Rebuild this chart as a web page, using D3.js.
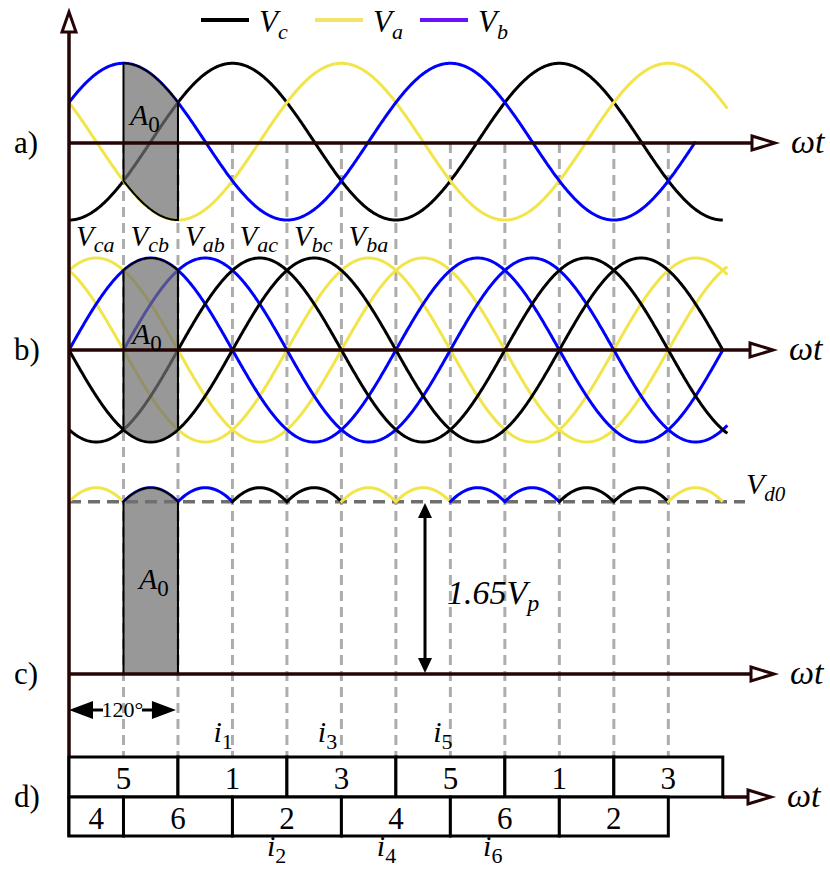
<!DOCTYPE html>
<meta charset="utf-8" />
<script src="https://d3js.org/d3.v7.min.js"></script>
<style>
  body { margin: 0; background: #fff; }
</style>
<div id="chart"></div>
<script>
  // panel a: phase voltages (angle of the peak, where the trace starts / stops), degrees
  const phaseKeys = ["c", "a", "b"];
  const phasePeaks = [180, 300, 60];
  const phaseStart = [0, 0, 0];
  const phaseEnd = [720, 725, 690];

  // panel b: line-to-line voltages
  const lineKeys = ["a", "a", "b", "b", "c", "c"];
  const linePeaks = [30, 330, 90, 150, 210, 270];
  const lineStart = [0, 0, 0, 60, 0, 0];
  const lineEnd = [725, 725, 720, 725, 725, 720];

  const sectorStarts = [0, 60, 120, 180, 240, 300];
  const sectorLabels = ["ca", "cb", "ab", "ac", "bc", "ba"];

  // panel c: rectified output, one arc per 60 deg sector
  const rectCenters = [30, 90, 150, 210, 270, 330, 390, 450, 510, 570, 630, 690];
  const rectKeys = ["a", "b", "b", "c", "c", "a", "a", "b", "b", "c", "c", "a"];
  const rectHalf = 31;

  const shadeFrom = 60, shadeTo = 120;
  const gridDegrees = [60, 120, 180, 240, 300, 360, 420, 480, 540, 600, 660];

  // panel d: conducting switches
  const topRowStart = [0, 120, 240, 360, 480, 600];
  const topRowEnd = [120, 240, 360, 480, 600, 720];
  const topRowLabels = ["5", "1", "3", "5", "1", "3"];
  const bottomRowStart = [0, 60, 180, 300, 420, 540];
  const bottomRowEnd = [60, 180, 300, 420, 540, 660];
  const bottomRowLabels = ["4", "6", "2", "4", "6", "2"];
  const currentTop = ["1", "3", "5"], currentTopDeg = [159, 274, 401];
  const currentBottom = ["2", "4", "6"], currentBottomDeg = [218, 339, 456];

  const colors = { a: "#f2e54b", b: "#0000ff", c: "#000000" };
  const legendColors = { c: "#000000", a: "#f5e26a", b: "#6a10ff" };
  const axisColor = "#240404";
  const serif = "'Liberation Serif', 'DejaVu Serif', serif";
  const rad = Math.PI / 180;

  const W = 830, H = 869;
  const svg = d3.select("#chart").append("svg")
    .attr("width", W).attr("height", H)
    .attr("font-family", serif)
    .style("background", "#fff");

  const x = d3.scaleLinear().domain([0, 720]).range([69, 722.8]);
  const yA = d3.scaleLinear().domain([-1, 1]).range([220, 63.3]);
  const yB = d3.scaleLinear().domain([-1, 1]).range([442, 258]);
  const yC = d3.scaleLinear().domain([Math.cos(30 * rad), 1]).range([501.7, 487.7]);
  const axisA = 143, axisB = 350, axisC = 674, axisD = 797;
  const rowTop = 757, rowBot = 836;

  const wave = (peak) => (t) => Math.cos((t - peak) * rad);

  function trace(f, a, b, ys) {
    const pts = d3.range(a, b, 1).concat([b]);
    return d3.line().x((t) => x(t)).y((t) => ys(f(t)))(pts);
  }

  // grid
  svg.append("g").selectAll("line").data(gridDegrees).join("line")
    .attr("x1", (d) => x(d)).attr("x2", (d) => x(d))
    .attr("y1", axisA).attr("y2", rowTop)
    .attr("stroke", "#adadad").attr("stroke-width", 3)
    .attr("stroke-dasharray", "10,6");

  // panel a curves
  const gA = svg.append("g");
  gA.selectAll("path").data(phaseKeys).join("path")
    .attr("d", (k, i) => trace(wave(phasePeaks[i]), phaseStart[i], phaseEnd[i], yA))
    .attr("fill", "none").attr("stroke", (k) => colors[k]).attr("stroke-width", 3);

  // panel b curves
  const gB = svg.append("g");
  gB.selectAll("path").data(lineKeys).join("path")
    .attr("d", (k, i) => trace(wave(linePeaks[i]), lineStart[i], lineEnd[i], yB))
    .attr("fill", "none").attr("stroke", (k) => colors[k]).attr("stroke-width", 3);

  // Vd0 dashed line and rectified arcs
  svg.append("line")
    .attr("x1", x(0)).attr("x2", 745).attr("y1", yC.range()[0]).attr("y2", yC.range()[0])
    .attr("stroke", "#6e6e6e").attr("stroke-width", 3.5).attr("stroke-dasharray", "12,7");
  svg.append("g").selectAll("path").data(rectKeys).join("path")
    .attr("d", (k, i) => {
      const c = rectCenters[i];
      const a = Math.max(0, c - rectHalf), b = Math.min(720, c + rectHalf);
      return trace(wave(c), a, b, yC);
    })
    .attr("fill", "none").attr("stroke", (k) => colors[k]).attr("stroke-width", 3);

  // shaded A0 areas
  function shade(fTop, fBot, ysTop, ysBot) {
    const pts = d3.range(shadeFrom, shadeTo, 1).concat([shadeTo]);
    const top = pts.map((t) => [x(t), ysTop(fTop(t))]);
    const bot = pts.slice().reverse().map((t) => [x(t), ysBot(fBot(t))]);
    return "M" + top.concat(bot).map((p) => p.join(",")).join("L") + "Z";
  }
  const shadeStyle = (sel) => sel.attr("fill", "#707070").attr("fill-opacity", 0.72)
    .attr("stroke", "#000").attr("stroke-width", 2);

  const maxA = (t) => d3.max(phasePeaks, (p) => wave(p)(t));
  const minA = (t) => d3.min(phasePeaks, (p) => wave(p)(t));
  const maxB = (t) => d3.max(linePeaks, (p) => wave(p)(t));
  const minB = (t) => d3.min(linePeaks, (p) => wave(p)(t));
  svg.append("path").attr("d", shade(maxA, minA, yA, yA)).call(shadeStyle);
  svg.append("path").attr("d", shade(maxB, minB, yB, yB)).call(shadeStyle);
  svg.append("path").attr("d", shade(wave(90), () => 0, yC, () => axisC)).call(shadeStyle);

  // axes
  function hAxis(y, x0, x1) {
    const g = svg.append("g");
    g.append("line").attr("x1", x0).attr("x2", x1).attr("y1", y).attr("y2", y)
      .attr("stroke", axisColor).attr("stroke-width", 3.5);
    g.append("path")
      .attr("d", `M${x1},${y - 7}L${x1 + 23},${y}L${x1},${y + 7}Z`)
      .attr("fill", "#fff").attr("stroke", axisColor).attr("stroke-width", 3);
    g.append("text").attr("x", x1 + 39).attr("y", y + 10)
      .attr("font-size", 34).attr("font-style", "italic").text("ωt");
  }
  hAxis(axisA, 69, 752);
  hAxis(axisB, 69, 750);
  hAxis(axisC, 69, 751);
  hAxis(axisD, 723, 748);

  svg.append("line").attr("x1", 69).attr("x2", 69).attr("y1", 32).attr("y2", rowBot + 1)
    .attr("stroke", axisColor).attr("stroke-width", 3.5);
  svg.append("path").attr("d", "M62,32L69,12L76,32Z")
    .attr("fill", "#fff").attr("stroke", axisColor).attr("stroke-width", 3);

  // text helper: main glyph with a subscript
  function label(xp, yp, main, sub, size, subSize) {
    const t = svg.append("text").attr("x", xp).attr("y", yp).attr("font-size", size);
    t.append("tspan").attr("font-style", "italic").text(main);
    if (sub) {
      t.append("tspan").attr("font-size", subSize).attr("dy", size * 0.22)
        .attr("font-style", isNaN(+sub) ? "italic" : "normal").text(sub);
    }
    return t;
  }

  // legend
  const legendX = [201, 315, 420];
  phaseKeys.forEach((k, i) => {
    svg.append("line").attr("x1", legendX[i]).attr("x2", legendX[i] + 48)
      .attr("y1", 20).attr("y2", 20).attr("stroke", legendColors[k]).attr("stroke-width", 4);
    label(legendX[i] + 58, 32, "V", k, 31, 22);
  });

  // sector labels
  sectorLabels.forEach((s, i) => label(x(sectorStarts[i]) + 7, 246, "V", s, 29, 22));

  // A0 labels
  label(130, 125, "A", "0", 30, 23);
  label(132, 344, "A", "0", 30, 23);
  label(139, 589, "A", "0", 30, 23);

  label(746, 494, "V", "d0", 30, 21);

  // 1.65 Vp arrow
  const arrowX = 425;
  svg.append("line").attr("x1", arrowX).attr("x2", arrowX).attr("y1", 515).attr("y2", 660)
    .attr("stroke", "#000").attr("stroke-width", 3);
  svg.append("path").attr("d", `M${arrowX - 7},518L${arrowX},503L${arrowX + 7},518Z`).attr("fill", "#000");
  svg.append("path").attr("d", `M${arrowX - 7},658L${arrowX},673L${arrowX + 7},658Z`).attr("fill", "#000");
  label(447, 604, "1.65V", "p", 34, 24);

  // 120 degree arrow
  const yArr = 710;
  svg.append("path").attr("d", `M${x(0)},${yArr}L${x(0) + 24},${yArr - 9}L${x(0) + 24},${yArr + 9}Z`).attr("fill", "#000");
  svg.append("path").attr("d", `M${x(120) - 2},${yArr}L${x(120) - 26},${yArr - 9}L${x(120) - 26},${yArr + 9}Z`).attr("fill", "#000");
  svg.append("line").attr("x1", x(0) + 20).attr("x2", x(0) + 34).attr("y1", yArr).attr("y2", yArr)
    .attr("stroke", "#000").attr("stroke-width", 3);
  svg.append("line").attr("x1", x(120) - 36).attr("x2", x(120) - 22).attr("y1", yArr).attr("y2", yArr)
    .attr("stroke", "#000").attr("stroke-width", 3);
  svg.append("text").attr("x", (x(0) + x(120)) / 2 - 1).attr("y", yArr + 7)
    .attr("text-anchor", "middle").attr("font-size", 22).text("120°");

  // panel d boxes
  const gD = svg.append("g");
  gD.selectAll("rect.top").data(topRowLabels).join("rect").attr("class", "top")
    .attr("x", (d, i) => x(topRowStart[i])).attr("width", (d, i) => x(topRowEnd[i]) - x(topRowStart[i]))
    .attr("y", rowTop).attr("height", axisD - rowTop)
    .attr("fill", "#fff").attr("stroke", "#000").attr("stroke-width", 3);
  gD.selectAll("rect.bot").data(bottomRowLabels).join("rect").attr("class", "bot")
    .attr("x", (d, i) => x(bottomRowStart[i])).attr("width", (d, i) => x(bottomRowEnd[i]) - x(bottomRowStart[i]))
    .attr("y", axisD).attr("height", rowBot - axisD)
    .attr("fill", "#fff").attr("stroke", "#000").attr("stroke-width", 3);
  gD.selectAll("text.top").data(topRowLabels).join("text").attr("class", "top")
    .attr("x", (d, i) => x((topRowStart[i] + topRowEnd[i]) / 2)).attr("y", 789)
    .attr("text-anchor", "middle").attr("font-size", 31).text((d) => d);
  gD.selectAll("text.bot").data(bottomRowLabels).join("text").attr("class", "bot")
    .attr("x", (d, i) => x((bottomRowStart[i] + bottomRowEnd[i]) / 2)).attr("y", 829)
    .attr("text-anchor", "middle").attr("font-size", 31).text((d) => d);

  currentTop.forEach((s, i) => label(x(currentTopDeg[i]), 742, "i", s, 30, 22));
  currentBottom.forEach((s, i) => label(x(currentBottomDeg[i]), 856, "i", s, 30, 22));

  // panel letters
  const panelNames = ["a)", "b)", "c)", "d)"];
  const panelY = [axisA, axisB, axisC, axisD];
  svg.selectAll("text.panel").data(panelNames).join("text").attr("class", "panel")
    .attr("x", 14).attr("y", (d, i) => panelY[i] + 10)
    .attr("font-size", 31).text((d) => d);
</script>
